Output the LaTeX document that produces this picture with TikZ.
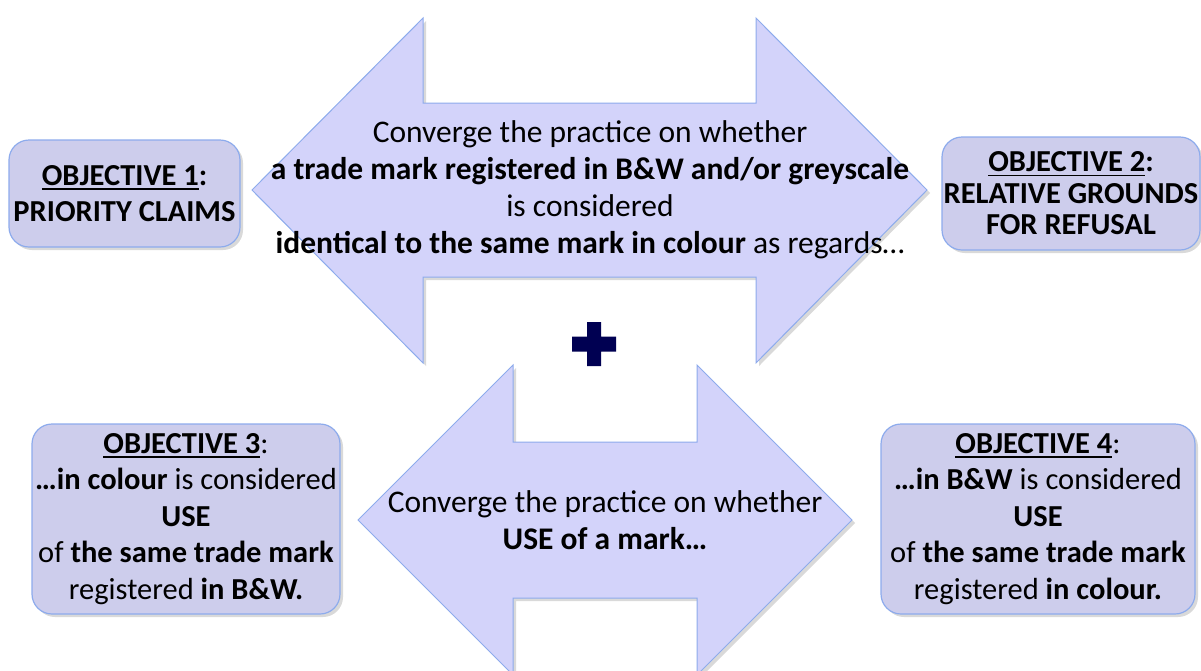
\documentclass[tikz,border=0pt]{standalone}
\usepackage{fontspec}
\setmainfont{Carlito}
\usepackage{tikz}
\usetikzlibrary{shadows}

\definecolor{arrowfill}{RGB}{211,211,250}
\definecolor{boxfill}{RGB}{205,205,236}
\definecolor{edgeblue}{RGB}{141,171,236}
\definecolor{plusnavy}{RGB}{0,0,82}

% underline for the objective titles
\newsavebox{\objsave}
\newcommand{\objul}[1]{\sbox\objsave{#1}\rlap{\rule[-4.5pt]{\wd\objsave}{1.7pt}}\usebox\objsave}

\tikzset{
	objbox/.style={draw=edgeblue, line width=1.2pt, fill=boxfill, rounded corners=20pt,
		align=center, inner sep=0pt, font=\fontsize{30.5}{36.5}\selectfont,
		drop shadow={shadow xshift=3pt, shadow yshift=-3pt, opacity=0.3}},
	arrowtext/.style={align=center, inner sep=0pt, font=\fontsize{31.5}{37}\selectfont},
	dblarrow/.style={draw=edgeblue, line width=1pt, fill=arrowfill,
		drop shadow={shadow xshift=3pt, shadow yshift=-3pt, opacity=0.3}}
}

\begin{document}
\begin{tikzpicture}[x=1pt,y=-1pt]
	\useasboundingbox (0,0) rectangle (1201,670);
	\clip (0,0) rectangle (1201,670);

	% Define the corners of the upper arrow
	\coordinate (uL) at (252,190);
	\coordinate (uLT) at (423,18);
	\coordinate (uNT1) at (423,103);
	\coordinate (uNT2) at (756,103);
	\coordinate (uRT) at (756,18);
	\coordinate (uR) at (927,190);
	\coordinate (uRB) at (756,363);
	\coordinate (uNB2) at (756,277);
	\coordinate (uNB1) at (423,277);
	\coordinate (uLB) at (423,363);

	% Define the corners of the lower arrow
	\coordinate (lL) at (358,520);
	\coordinate (lLT) at (513,365);
	\coordinate (lNT1) at (513,442);
	\coordinate (lNT2) at (697,442);
	\coordinate (lRT) at (697,365);
	\coordinate (lR) at (852,520);
	\coordinate (lRB) at (697,675);
	\coordinate (lNB2) at (697,598);
	\coordinate (lNB1) at (513,598);
	\coordinate (lLB) at (513,675);

	% Draw the two double arrows
	\draw[dblarrow] (uL) -- (uLT) -- (uNT1) -- (uNT2) -- (uRT) -- (uR) -- (uRB) -- (uNB2) -- (uNB1) -- (uLB) -- cycle;
	\draw[dblarrow] (lL) -- (lLT) -- (lNT1) -- (lNT2) -- (lRT) -- (lR) -- (lRB) -- (lNB2) -- (lNB1) -- (lLB) -- cycle;

	% Draw the plus sign between them
	\fill[plusnavy] (587,322) -- (601,322) -- (601,336.5) -- (616,336.5) -- (616,351.5) -- (601,351.5)
		-- (601,366) -- (587,366) -- (587,351.5) -- (572,351.5) -- (572,336.5) -- (587,336.5) -- cycle;

	% Texts inside the arrows
	\node[arrowtext] (upperText) at (590,190) {Converge the practice on whether\\
		\textbf{a trade mark registered in B\&W and/or greyscale}\\
		is considered\\
		\textbf{identical to the same mark in colour} as regards…};
	\node[arrowtext] (lowerText) at (605,520) {Converge the practice on whether\\
		\textbf{USE of a mark…}};

	% The four objectives
	\node[objbox, minimum width=231pt, minimum height=107pt] (obj1) at (124.5,193.5)
		{\textbf{\objul{OBJECTIVE 1}:}\\ \textbf{PRIORITY CLAIMS}};
	\node[objbox, minimum width=258pt, minimum height=113pt, font=\fontsize{30.5}{31.5}\selectfont] (obj2) at (1071,193.5)
		{\textbf{\objul{OBJECTIVE 2}:}\\ \textbf{RELATIVE GROUNDS}\\ \textbf{FOR REFUSAL}};
	\node[objbox, minimum width=308pt, minimum height=190pt] (obj3) at (186,519)
		{\textbf{\objul{OBJECTIVE 3}}:\\ \textbf{…in colour} is considered\\ \textbf{USE}\\
		of \textbf{the same trade mark}\\ registered \textbf{in B\&W.}};
	\node[objbox, minimum width=314pt, minimum height=190pt] (obj4) at (1038,519)
		{\textbf{\objul{OBJECTIVE 4}}:\\ \textbf{…in B\&W} is considered\\ \textbf{USE}\\
		of \textbf{the same trade mark}\\ registered \textbf{in colour.}};
\end{tikzpicture}
\end{document}
